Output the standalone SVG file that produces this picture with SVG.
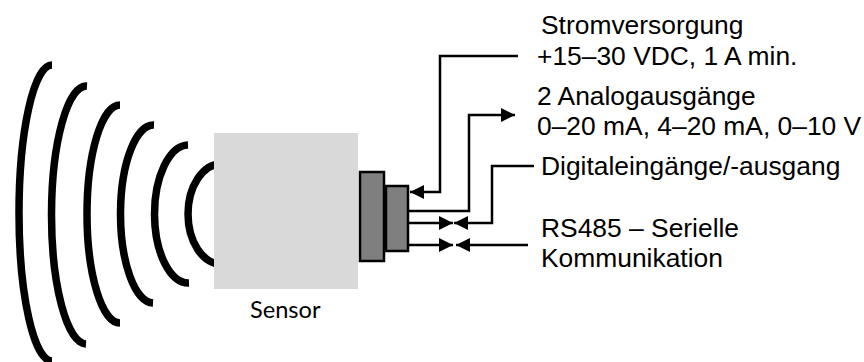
<svg xmlns="http://www.w3.org/2000/svg" width="864" height="362" viewBox="0 0 864 362">
<style>
.wave{fill:none;stroke:#000;stroke-width:7.5}
.conn{fill:none;stroke:#000;stroke-width:2.5}
.plug{fill:#7f7f7f;stroke:#000;stroke-width:2.5}
text{font-family:"Liberation Sans",Arial,sans-serif;font-size:26.4px;fill:#000}
</style>
<defs>
<marker id="a" markerUnits="userSpaceOnUse" markerWidth="14" markerHeight="16" refX="14" refY="7" orient="auto"><path d="M0 0L14 7L0 14Z" fill="#000"/></marker>
</defs>
<rect width="864" height="362" fill="#fff"/>
<g id="waves">
<path class="wave" d="M52 65A33 148 0 0 0 52 361"/>
<path class="wave" d="M87 86A35 129 0 0 0 86 344"/>
<path class="wave" d="M120 105A33 109 0 0 0 120 323"/>
<path class="wave" d="M154 125A33 89 0 0 0 153 303"/>
<path class="wave" d="M188 145A34 69 0 0 0 189 283"/>
</g>
<g id="sensor">
<path class="wave" d="M221 164A33 50 0 0 0 221 264"/>
<rect x="214" y="133" width="144" height="156" fill="#d9d9d9"/>
<text x="250" y="318" style="font-family:Lato,'Open Sans',sans-serif;font-size:23.6px">Sensor</text>
</g>
<g id="plug">
<rect class="plug" x="360" y="172" width="24" height="89"/>
<rect class="plug" x="386" y="186" width="22" height="65"/>
</g>
<g id="connectors">
<path class="conn" d="M518 56H440V192H410" marker-end="url(#a)"/>
<path class="conn" d="M408 211H469V115H515" marker-end="url(#a)"/>
<path class="conn" d="M408 223H453" marker-end="url(#a)"/>
<path class="conn" d="M534 166H492V223H454" marker-end="url(#a)"/>
<path class="conn" d="M408 245H453" marker-end="url(#a)"/>
<path class="conn" d="M528 245H456" marker-end="url(#a)"/>
</g>
<g id="labels">
<text x="541" y="34">Stromversorgung</text>
<text x="537" y="65">+15–30 VDC, 1 A min.</text>
<text x="537" y="105">2 Analogausgänge</text>
<text x="537" y="135">0–20 mA, 4–20 mA, 0–10 V</text>
<text x="541" y="175">Digitaleingänge/-ausgang</text>
<text x="541" y="237">RS485 – Serielle</text>
<text x="541" y="267">Kommunikation</text>
</g>
</svg>
